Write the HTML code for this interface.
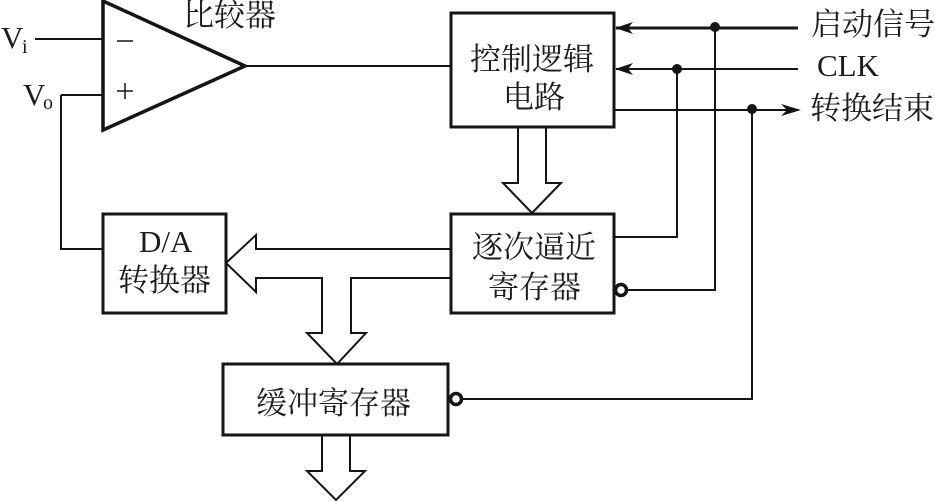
<!DOCTYPE html>
<html><head><meta charset="utf-8">
<style>
html,body{margin:0;padding:0;background:#fff;width:935px;height:502px;overflow:hidden}
svg{display:block}
text{font-family:"Liberation Serif","Noto Serif CJK SC",serif;fill:#1c1c1c}
</style></head><body>
<svg width="935" height="502" viewBox="0 0 935 502">
<g fill="none" stroke="#151515" stroke-width="2">
<!-- comparator -->
<polygon points="103,1 245,66 103,130" stroke-width="3.5"/>
<path d="M35,39H102M61,95H102M61,95V249H102M245,66H451"/>
<path d="M117,41H133M125,83V99M117,91H133" stroke-width="1.5"/>
<!-- boxes -->
<rect x="451" y="13" width="163" height="114" stroke-width="3"/>
<rect x="103" y="214" width="123" height="99" stroke-width="3"/>
<rect x="451" y="214" width="163" height="99" stroke-width="3"/>
<rect x="223" y="364" width="225" height="71" stroke-width="3"/>
<!-- right connections -->
<path d="M616,28H798" stroke-width="3"/>
<path d="M715,28V290H627"/>
<path d="M616,69H798M677,69V237H614"/>
<path d="M614,110H790M752,110V399H462"/>
<!-- hollow arrow control to SAR -->
<path d="M518,127V183H503L532,213L561,183H546V127"/>
<!-- hollow bus -->
<path d="M451,249H256V235L226,263L256,292V278H322V333H307L337,364L366,333H351V278H451"/>
<!-- output arrow -->
<path d="M322,435V471H307L336,500L365,471H350V435"/>
<circle cx="621" cy="290" r="5.5" stroke-width="3.5"/>
<circle cx="456" cy="399" r="5.5" stroke-width="3.5"/>
</g>
<g fill="#151515">
<circle cx="715" cy="27" r="5"/><circle cx="677" cy="69" r="5"/><circle cx="752" cy="109" r="5"/>
<polygon points="615,28 633,22 628,28 633,34"/>
<polygon points="615,69 633,63 628,69 633,75"/>
<polygon points="801,110 781,104 787,110 781,116"/>
</g>
<g font-size="31">
<text x="1" y="48">V</text><text x="22" y="53" font-size="20">i</text>
<text x="23" y="105">V</text><text x="43" y="109" font-size="20">o</text>
<text x="183" y="26">比较器</text>
<text x="470" y="70">控制逻辑</text>
<text x="503" y="108">电路</text>
<text x="139" y="252">D/A</text>
<text x="118" y="291">转换器</text>
<text x="472" y="258">逐次逼近</text>
<text x="488" y="298">寄存器</text>
<text x="256" y="414">缓冲寄存器</text>
<text x="811" y="35">启动信号</text>
<text x="817" y="76">CLK</text>
<text x="810" y="119">转换结束</text>
</g>
</svg>
</body></html>
